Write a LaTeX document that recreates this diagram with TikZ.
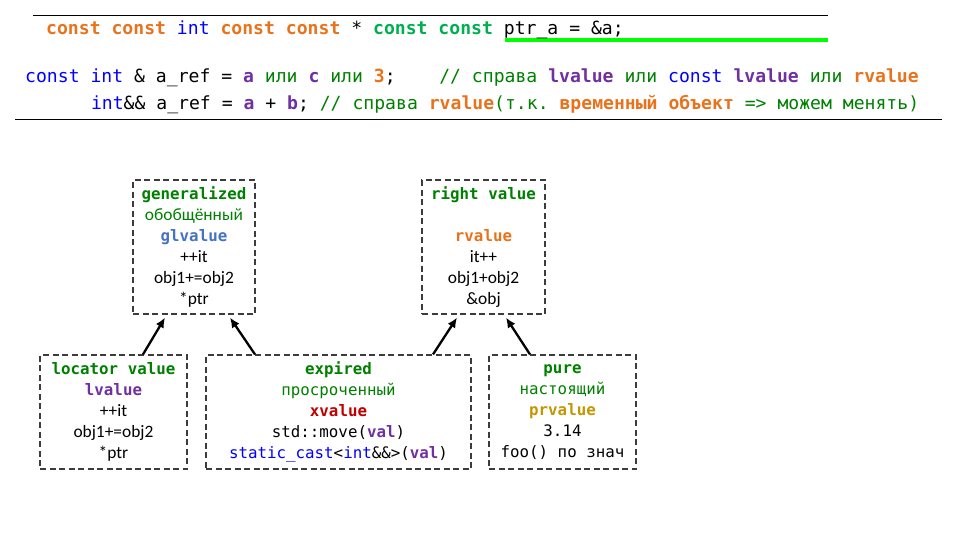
\documentclass[tikz,border=0pt]{standalone}
\usepackage{fontspec}
\setmainfont{Carlito}
\newfontfamily\mono{DejaVu Sans Mono}
\usetikzlibrary{arrows.meta}
\definecolor{cgreen}{RGB}{0,128,0}
\definecolor{cteal}{RGB}{0,176,80}
\definecolor{corange}{RGB}{232,115,28}
\definecolor{cblue}{RGB}{0,0,255}
\definecolor{cpurple}{RGB}{112,48,160}
\definecolor{cglblue}{RGB}{68,114,196}
\definecolor{cred}{RGB}{192,0,0}
\definecolor{cgold}{RGB}{196,150,0}
\definecolor{cbright}{RGB}{0,255,0}
\definecolor{cgray}{RGB}{60,60,60}
\newcommand\kw[2]{{\color{#1}\bfseries #2}}
\newcommand\cl[2]{{\color{#1}#2}}
\newcommand\calf{\rmfamily\mdseries\fontsize{17.4}{21}\selectfont}
\begin{document}
\frenchspacing
\begin{tikzpicture}[x=1pt,y=-1pt,
  code/.style={anchor=base west, inner sep=0pt, font=\mono\fontsize{18.1}{22}\selectfont},
  box/.style={draw=cgray, dash pattern=on 6pt off 3.5pt, line width=1.2pt, align=center, inner sep=0pt,
    font=\mono\fontsize{15.8}{21}\selectfont},
  arr/.style={line width=2.3pt, -{Latex[length=10pt,width=9pt]}}]
\useasboundingbox (0,0) rectangle (958,542);
% header lines
\draw[line width=1pt] (33,15) -- (828,15);
\draw[line width=3.5pt, cbright] (505,40) -- (828,40);
\draw[line width=1pt] (15,119) -- (942,119);
\node[code] (l1) at (46,34) {\kw{corange}{const const} \cl{cblue}{int} \kw{corange}{const const} * \kw{cteal}{const const} ptr\_a = \&a;};
\node[code] (l2) at (25,82) {\cl{cblue}{const int} \& a\_ref = \kw{cpurple}{a} \cl{cgreen}{или} \kw{cpurple}{c} \cl{cgreen}{или} \kw{corange}{3};\ \ \ \ \cl{cgreen}{// справа} \kw{cpurple}{lvalue} \cl{cgreen}{или} \cl{cblue}{const} \kw{cpurple}{lvalue} \cl{cgreen}{или} \kw{corange}{rvalue}};
\node[code] (l3) at (90.8,109) {\cl{cblue}{int}\&\& a\_ref = \kw{cpurple}{a} + \kw{cpurple}{b}; \cl{cgreen}{// справа} \kw{corange}{rvalue}\cl{cgreen}{(т.к.} \kw{corange}{временный объект} \cl{cgreen}{=> можем менять)}};
% boxes
\node[box, minimum width=122pt, minimum height=134pt] (gl) at (194,247) {%
  \kw{cgreen}{generalized}\\
  {\calf\color{cgreen}обобщённый}\\
  \kw{cglblue}{glvalue}\\
  {\calf ++it}\\
  {\calf obj1+=obj2}\\
  {\calf *ptr}};
\node[box, minimum width=123pt, minimum height=134pt] (rv) at (483.5,247) {%
  \kw{cgreen}{right value}\\
  \mbox{}\\
  \kw{corange}{rvalue}\\
  {\calf it++}\\
  {\calf obj1+obj2}\\
  {\calf \&obj}};
\node[box, minimum width=147pt, minimum height=114pt] (lv) at (113.5,412) {%
  \kw{cgreen}{locator value}\\
  \kw{cpurple}{lvalue}\\
  {\calf ++it}\\
  {\calf obj1+=obj2}\\
  {\calf *ptr}};
\node[box, minimum width=265pt, minimum height=114pt] (xv) at (338.5,412) {%
  \kw{cgreen}{expired}\\
  \cl{cgreen}{просроченный}\\
  \kw{cred}{xvalue}\\
  std::move(\kw{cpurple}{val})\\
  \cl{cblue}{static\_cast}<\cl{cblue}{int}\&\&>(\kw{cpurple}{val})};
\node[box, minimum width=147pt, minimum height=114pt] (pr) at (562.5,412) {%
  \kw{cgreen}{pure}\\
  \cl{cgreen}{настоящий}\\
  \kw{cgold}{prvalue}\\
  3.14\\
  foo() по знач};
% arrows
\draw[arr] ([xshift=29.5pt]lv.north) -- ([xshift=-29pt,yshift=-3pt]gl.south);
\draw[arr] ([xshift=-83.5pt]xv.north) -- ([xshift=36pt,yshift=-3pt]gl.south);
\draw[arr] ([xshift=94.5pt]xv.north) -- ([xshift=-26.5pt,yshift=-3pt]rv.south);
\draw[arr] ([xshift=-32.5pt]pr.north) -- ([xshift=22.5pt,yshift=-3pt]rv.south);
\end{tikzpicture}
\end{document}
